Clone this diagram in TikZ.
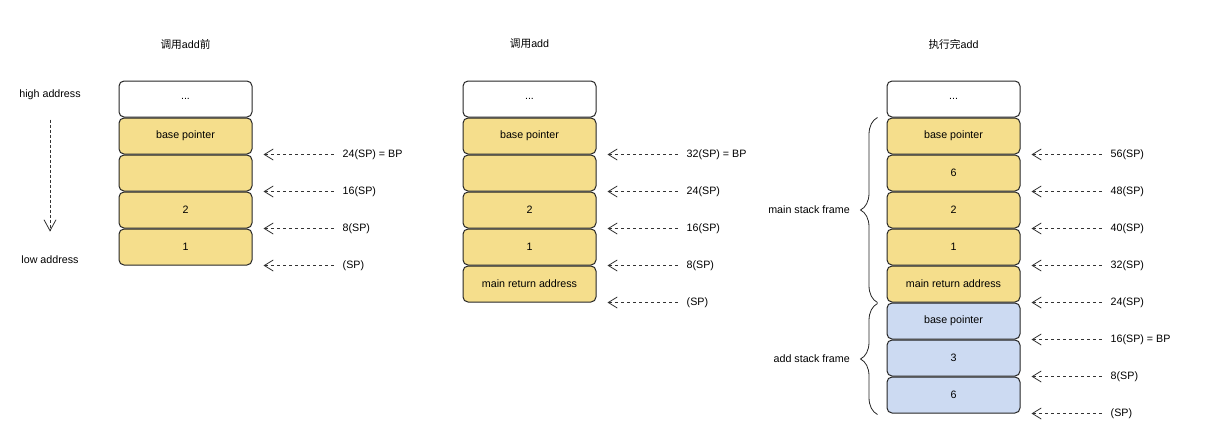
\documentclass[tikz,border=0pt]{standalone}
\usepackage{fontspec}
\setmainfont{Liberation Sans}
\newfontfamily\cjk{Noto Sans CJK SC}
\usetikzlibrary{positioning,arrows.meta,decorations.pathreplacing}

\definecolor{frameyellow}{RGB}{245,222,140}
\definecolor{frameblue}{RGB}{204,218,242}

\tikzset{
  slot/.style={draw=black!85, line width=1pt, rounded corners=5pt,
    minimum width=133pt, minimum height=36pt, inner sep=0pt},
  ptr/.style={draw=black!80, line width=0.8pt, dash pattern=on 3pt off 3pt,
    -{Straight Barb[length=9pt,width=11pt]}, shorten <=9pt, shorten >=11pt},
  sp/.style={inner xsep=0pt, right=90pt of #1},
  frame/.style={draw=black!85, line width=0.8pt, decorate,
    decoration={brace, amplitude=17pt}},
}

\begin{document}
\begin{tikzpicture}[x=1pt, y=-1pt, font=\fontsize{10.7}{13}\selectfont]
  \useasboundingbox (0,0) rectangle (1218,440);

  % titles
  \node (t1) at (185.5,44) {{\cjk 调用}add{\cjk 前}};
  \node (t2) at (529.5,44) {{\cjk 调用}add};
  \node (t3) at (953.5,44) {{\cjk 执行完}add};

  \node (hi) at (50,95)  {high address};
  \node (lo) at (50,260) {low address};
  \draw[ptr, dash pattern=on 3pt off 2pt, -{Straight Barb[length=11pt,width=12pt]},
    shorten <=16pt, shorten >=21pt] (hi) -- (lo);

  \begin{scope}[every node/.style={slot, fill=frameyellow}]
    % before the call
    \node[fill=white] (a0) at (185.5,99) {...};
    \node (a1) at (185.5,136) {base pointer};
    \node (a2) at (185.5,173) {};
    \node (a3) at (185.5,210) {2};
    \node (a4) at (185.5,247) {1};

    % calling add
    \node[fill=white] (b0) at (529.5,99) {...};
    \node (b1) at (529.5,136) {base pointer};
    \node (b2) at (529.5,173) {};
    \node (b3) at (529.5,210) {2};
    \node (b4) at (529.5,247) {1};
    \node (b5) at (529.5,284) {main return address};

    % after add
    \node[fill=white] (c0) at (953.5,99) {...};
    \node (c1) at (953.5,136) {base pointer};
    \node (c2) at (953.5,173) {6};
    \node (c3) at (953.5,210) {2};
    \node (c4) at (953.5,247) {1};
    \node (c5) at (953.5,284) {main return address};
    \node[fill=frameblue] (c6) at (953.5,321) {base pointer};
    \node[fill=frameblue] (c7) at (953.5,358) {3};
    \node[fill=frameblue] (c8) at (953.5,395) {6};
  \end{scope}

  \node[sp=a1.south east] (pa1) {24(SP) = BP};
  \node[sp=a2.south east] (pa2) {16(SP)};
  \node[sp=a3.south east] (pa3) {8(SP)};
  \node[sp=a4.south east] (pa4) {(SP)};
  \draw[ptr] (pa1) -- (a1.south east);
  \draw[ptr] (pa2) -- (a2.south east);
  \draw[ptr] (pa3) -- (a3.south east);
  \draw[ptr] (pa4) -- (a4.south east);

  \node[sp=b1.south east] (pb1) {32(SP) = BP};
  \node[sp=b2.south east] (pb2) {24(SP)};
  \node[sp=b3.south east] (pb3) {16(SP)};
  \node[sp=b4.south east] (pb4) {8(SP)};
  \node[sp=b5.south east] (pb5) {(SP)};
  \draw[ptr] (pb1) -- (b1.south east);
  \draw[ptr] (pb2) -- (b2.south east);
  \draw[ptr] (pb3) -- (b3.south east);
  \draw[ptr] (pb4) -- (b4.south east);
  \draw[ptr] (pb5) -- (b5.south east);

  \node[sp=c1.south east] (pc1) {56(SP)};
  \node[sp=c2.south east] (pc2) {48(SP)};
  \node[sp=c3.south east] (pc3) {40(SP)};
  \node[sp=c4.south east] (pc4) {32(SP)};
  \node[sp=c5.south east] (pc5) {24(SP)};
  \node[sp=c6.south east] (pc6) {16(SP) = BP};
  \node[sp=c7.south east] (pc7) {8(SP)};
  \node[sp=c8.south east] (pc8) {(SP)};
  \draw[ptr] (pc1) -- (c1.south east);
  \draw[ptr] (pc2) -- (c2.south east);
  \draw[ptr] (pc3) -- (c3.south east);
  \draw[ptr] (pc4) -- (c4.south east);
  \draw[ptr] (pc5) -- (c5.south east);
  \draw[ptr] (pc6) -- (c6.south east);
  \draw[ptr] (pc7) -- (c7.south east);
  \draw[ptr] (pc8) -- (c8.south east);

  % stack frames
  \draw[frame] ([xshift=-9pt]c5.south west) -- ([xshift=-9pt]c1.north west)
    node[midway, left=24pt] (fm) {main stack frame};
  \draw[frame] ([xshift=-9pt,yshift=-1pt]c8.south west) -- ([xshift=-9pt,yshift=-1pt]c6.north west)
    node[midway, left=24pt] (fa) {add stack frame};

\end{tikzpicture}
\end{document}
